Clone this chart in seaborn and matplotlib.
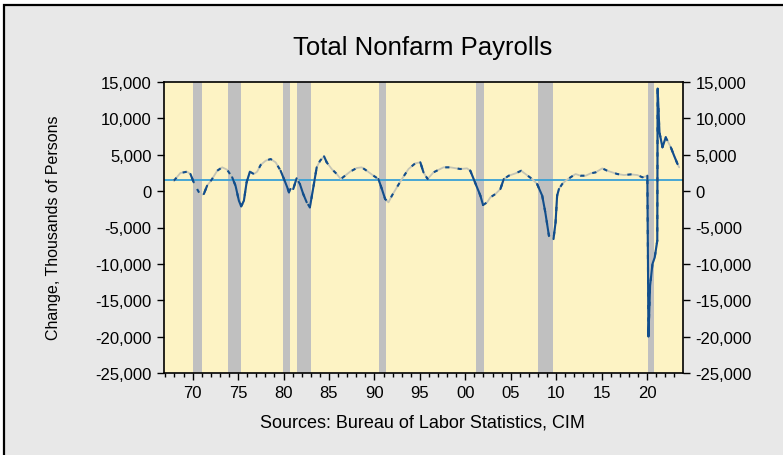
import numpy as np
import pandas as pd
import seaborn as sns
import matplotlib.pyplot as plt
from matplotlib.patches import Rectangle
from matplotlib.ticker import FuncFormatter, MultipleLocator

# year-over-year change in nonfarm payrolls, thousands
years = [1967.92, 1968.10, 1968.65, 1969.38, 1969.76, 1970.12, 1970.49, 1970.86, 1971.23, 1971.59,
         1972.14, 1972.70, 1973.25, 1973.80, 1974.35, 1974.72, 1975.09, 1975.34, 1975.64, 1975.94,
         1976.30, 1976.74, 1977.10, 1977.48, 1978.03, 1978.58, 1979.13, 1979.68, 1980.05, 1980.41,
         1980.60, 1980.75, 1981.07, 1981.44, 1981.80, 1982.17, 1982.55, 1982.90, 1983.28, 1983.65,
         1984.02, 1984.46, 1984.75, 1985.30, 1985.86, 1986.30, 1986.77, 1987.32, 1988.06, 1988.60,
         1989.16, 1989.90, 1990.44, 1990.82, 1991.18, 1991.55, 1991.92, 1992.47, 1993.02, 1993.75,
         1994.49, 1995.05, 1995.40, 1995.85, 1996.50, 1997.60, 1998.35, 1999.45, 2000.19, 2000.55,
         2000.92, 2001.29, 2001.66, 2001.95, 2002.40, 2002.76, 2003.31, 2003.86, 2004.23, 2004.78,
         2005.52, 2006.15, 2006.62, 2007.36, 2007.90, 2008.46, 2008.80, 2009.20, 2009.50, 2009.70,
         2009.93, 2010.10, 2010.30, 2010.66, 2011.03, 2011.58, 2012.13, 2012.68, 2013.24, 2013.79,
         2014.34, 2015.07, 2015.62, 2016.17, 2016.72, 2017.46, 2018.20, 2018.93, 2019.48, 2019.85,
         2020.03, 2020.15, 2020.33, 2020.59, 2020.84, 2021.12, 2021.16, 2021.36, 2021.69, 2022.05,
         2022.24, 2022.61, 2022.97, 2023.35, 2023.53]
change = [1430, 1660, 2490, 2670, 2350, 1210, 290, -540, -400, 740,
          1660, 2800, 3270, 2940, 1900, 740, -1320, -2090, -1320, 1210,
          2670, 2350, 2670, 3590, 4180, 4410, 3960, 2800, 1660, 520,
          -170, 290, 290, 1760, 980, -400, -1540, -2230, 520, 3270,
          4180, 4780, 3960, 3040, 2350, 1660, 2120, 2670, 3180, 3270,
          2800, 2120, 1660, 290, -1090, -1540, -630, 520, 1660, 3040,
          3820, 3960, 2580, 1660, 2580, 3270, 3270, 3040, 3130, 2800,
          1660, 520, -630, -1910, -1540, -850, -400, 290, 1660, 2120,
          2440, 2800, 2350, 1660, 980, -630, -2910, -6130, -6600, -6590,
          -4290, -630, 290, 980, 1430, 1900, 2350, 2120, 2120, 2440,
          2580, 3130, 2800, 2580, 2350, 2210, 2300, 2210, 1900, 2030,
          2120, -20000, -13000, -10020, -9100, -6800, 14100, 8080, 6020, 7400,
          6930, 6020, 4870, 3720, 3270]
avg_change = 1570

# recession shading (start, end)
rec_start = [1970.0, 1973.86, 1979.95, 1981.5, 1990.5, 2001.2, 2008.0, 2020.15]
rec_end = [1971.0, 1975.27, 1980.7, 1983.05, 1991.3, 2002.05, 2009.6, 2020.77]

df = pd.DataFrame({"year": years, "change": change})

# steep stretches drawn solid blue
slope = np.abs(np.diff(df["change"]) / np.diff(df["year"]))
rows = []
run = -1
prev = False
for i, s in enumerate(slope):
    if s > 2500:
        if not prev:
            run += 1
            rows.append((df["year"][i], df["change"][i], run))
        rows.append((df["year"][i + 1], df["change"][i + 1], run))
        prev = True
    else:
        prev = False
steep = pd.DataFrame(rows, columns=["year", "change", "run"])

sns.set_style("ticks")
plt.rcParams["font.family"] = ["Liberation Sans", "DejaVu Sans"]
plt.rcParams["text.color"] = "black"

fig = plt.figure(figsize=(7.83, 4.56), dpi=100, facecolor="white")
fig.patches.append(Rectangle((3.5 / 783, -0.1), 1.2, 1 - 6 / 456 + 0.1,
                             transform=fig.transFigure, facecolor="#e8e8e8",
                             edgecolor="black", linewidth=1.6, zorder=-10))

ax = fig.add_axes([164 / 783, 1 - 374 / 456, 519 / 783, 291 / 456])
ax.set_facecolor("#fdf3c4")

for a, b in zip(rec_start, rec_end):
    ax.axvspan(a, b, color="#c0c0c0", lw=0, zorder=1)

ax.axhline(avg_change, color="#3aa0d5", lw=1.3, zorder=2)

sns.lineplot(data=df, x="year", y="change", color="#c5c5b5", lw=1.3,
             sort=False, ax=ax, zorder=3)
sns.lineplot(data=df, x="year", y="change", color="#124e8c", lw=1.5,
             sort=False, ax=ax, zorder=4, linestyle=(0, (2, 4)))
sns.lineplot(data=steep, x="year", y="change", units="run", estimator=None,
             color="#124e8c", lw=1.5, sort=False, ax=ax, zorder=5)

ax.set_xlim(1966.85, 2023.95)
ax.set_ylim(-25000, 15000)
ax.xaxis.set_major_locator(MultipleLocator(5))
ax.xaxis.set_minor_locator(MultipleLocator(1))
ax.xaxis.set_major_formatter(FuncFormatter(lambda v, p: f"{int(round(v)) % 100:02d}"))
ax.yaxis.set_major_locator(MultipleLocator(5000))
ax.yaxis.set_major_formatter(FuncFormatter(lambda v, p: f"{int(v):,}"))
ax.tick_params(axis="y", which="major", direction="out", length=5, width=1,
               pad=4, labelsize=12, left=True, right=True, labelright=True,
               colors="black", labelcolor="black")
ax.tick_params(axis="x", which="major", direction="out", length=5, width=1,
               pad=4, labelsize=12, colors="black", labelcolor="black")
ax.tick_params(axis="x", which="minor", direction="out", length=3, width=1,
               bottom=True, colors="black")
for sp in ax.spines.values():
    sp.set_visible(True)
    sp.set_color("black")
    sp.set_linewidth(1.2)
ax.set_xlabel("")
ax.set_ylabel("")

fig.text(423 / 783, 1 - 55 / 456, "Total Nonfarm Payrolls", ha="center",
         va="baseline", fontsize=18.5, color="black")
fig.text(53.5 / 783, 228.5 / 456, "Change, Thousands of Persons", rotation=90,
         ha="center", va="center", fontsize=11.5, color="black")
fig.text(422 / 783, 1 - 428 / 456, "Sources: Bureau of Labor Statistics, CIM",
         ha="center", va="baseline", fontsize=13, color="black")

fig.savefig("out.png", dpi=100, facecolor=fig.get_facecolor())
